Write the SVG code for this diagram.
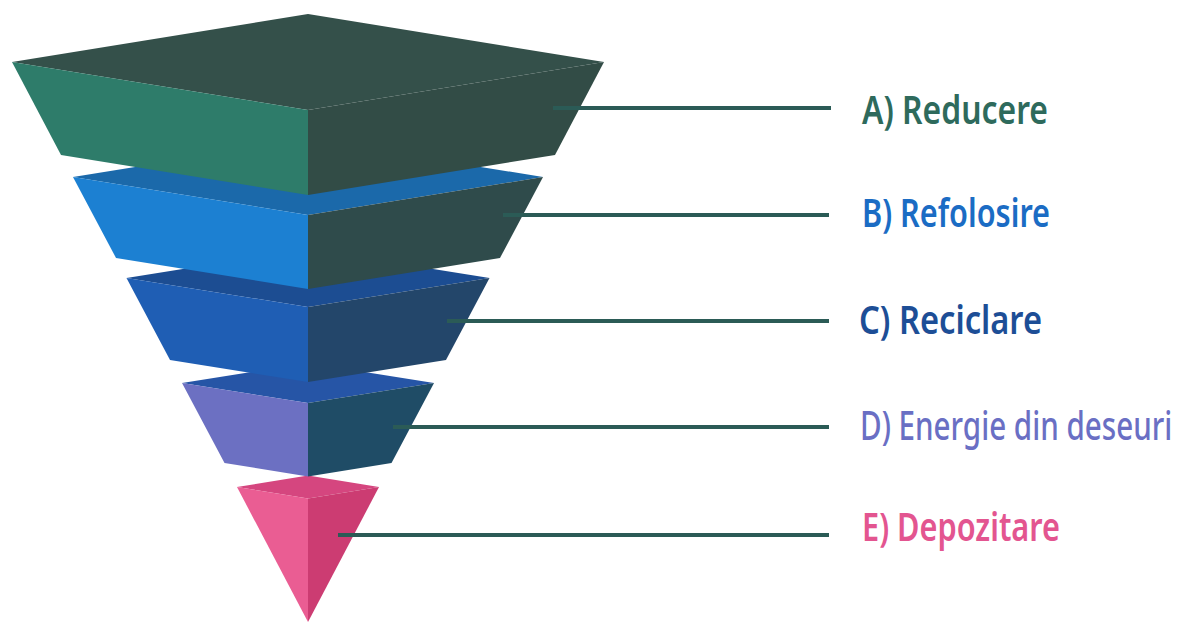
<svg xmlns="http://www.w3.org/2000/svg" width="1196" height="624" viewBox="0 0 1196 624">
<style>
.lbl{font-family:"Noto Sans","Open Sans","DejaVu Sans",sans-serif;font-weight:600;font-size:39px}
.conn line{stroke:#2b5b56;stroke-width:4;stroke-linecap:butt}
</style>
<rect width="1196" height="624" fill="#ffffff"/>
<g id="layer-E">
<polygon points="237,487 308,475.5 379,487 308,498.5" fill="#d5467f"/>
<polygon points="237,487 308,498.5 308,622" fill="#ea5d93"/>
<polygon points="308,498.5 379,487 308,622" fill="#cc3c72"/>
</g>
<g id="layer-D">
<polygon points="182,383 308,363 434,383 308,403" fill="#2655a6"/>
<polygon points="182,383 308,403 308,476.5 224.5,463" fill="#6c70c2"/>
<polygon points="308,403 434,383 391.5,463 308,476.5" fill="#1f4c66"/>
</g>
<g id="layer-C">
<polygon points="126.5,278 308,249 489.5,278 308,307" fill="#1c4d92"/>
<polygon points="126.5,278 308,307 308,382 170,360" fill="#1f5eb4"/>
<polygon points="308,307 489.5,278 446,360 308,382" fill="#23466a"/>
</g>
<g id="layer-B">
<polygon points="73,177 308,139 543,177 308,215" fill="#1b69aa"/>
<polygon points="73,177 308,215 308,289 116,258" fill="#1c80d2"/>
<polygon points="308,215 543,177 500,258 308,289" fill="#2f4b4b"/>
</g>
<g id="layer-A">
<polygon points="12,62 308,14 604,62 308,110" fill="#34504a"/>
<polygon points="12,62 308,110 308,195 61,155" fill="#2e7c6a"/>
<polygon points="308,110 604,62 555,155 308,195" fill="#324c46"/>
</g>
<g id="connectors" class="conn">
<line x1="553" y1="108" x2="831" y2="108"/>
<line x1="503" y1="215" x2="829" y2="215"/>
<line x1="447" y1="321" x2="829" y2="321"/>
<line x1="393" y1="427" x2="829" y2="427"/>
<line x1="338" y1="535" x2="829" y2="535"/>
</g>
<g id="label-A"><text class="lbl" x="862" y="124" fill="#2e6a5c" textLength="186" lengthAdjust="spacingAndGlyphs">A) Reducere</text></g>
<g id="label-B"><text class="lbl" x="862" y="227" fill="#1b6cc4" textLength="188" lengthAdjust="spacingAndGlyphs">B) Refolosire</text></g>
<g id="label-C"><text class="lbl" x="859" y="334" fill="#1d4e96" textLength="183" lengthAdjust="spacingAndGlyphs">C) Reciclare</text></g>
<g id="label-D" transform="translate(860,440) scale(0.7,1)"><text class="lbl" x="0" y="0" fill="#6a6fc4" textLength="446" lengthAdjust="spacingAndGlyphs" style="font-weight:500">D) Energie din deseuri</text></g>
<g id="label-E"><text class="lbl" x="862" y="541" fill="#e35590" textLength="198" lengthAdjust="spacingAndGlyphs">E) Depozitare</text></g>
</svg>
